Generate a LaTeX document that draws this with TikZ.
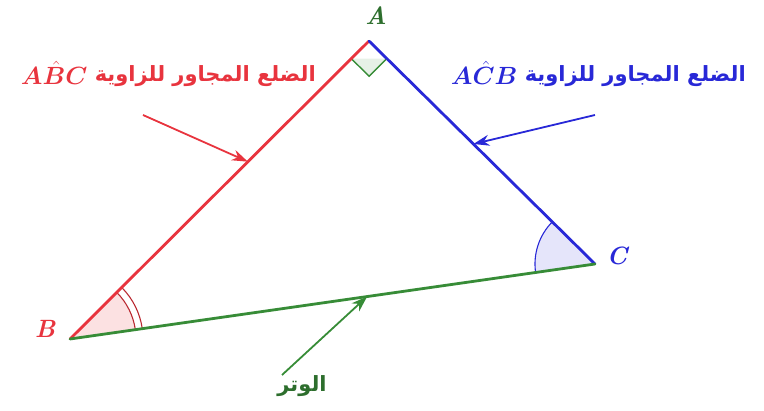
\documentclass[tikz,border=0pt]{standalone}
\usepackage{fontspec}
\usepackage{bm}
\TeXXeTstate=1
\newfontfamily\arabicfont[Script=Arabic]{DejaVu Sans}
\usetikzlibrary{angles,arrows.meta,calc}
\definecolor{redc}{RGB}{232,52,62}
\definecolor{bluec}{RGB}{40,40,215}
\definecolor{greenc}{RGB}{55,140,55}
\definecolor{greenl}{RGB}{45,110,45}
\tikzset{
  side/.style={line width=2.8pt, line cap=round},
  pointer/.style={line width=1.8pt, -{Stealth[length=16pt,width=11pt]}},
  vlabel/.style={font=\fontsize{25}{28}\selectfont\bfseries\itshape},
  arlabel/.style={font=\fontsize{21}{24}\selectfont, inner sep=0pt},
  mlabel/.style={font=\fontsize{28}{30}\selectfont, inner sep=0pt, anchor=east}
}
\begin{document}
\begin{tikzpicture}[x=1pt,y=-1pt]
\useasboundingbox (0,0) rectangle (764,411);
\coordinate (A) at (369,41);
\coordinate (B) at (70,339);
\coordinate (C) at (595,264);
% fills of angles
\pic [fill=redc!15, angle radius=66pt] {angle = C--B--A};
\pic [fill=bluec!12, angle radius=60pt] {angle = A--C--B};
% right angle square
\coordinate (R1) at ($(A)!25pt!(B)$);
\coordinate (R2) at ($(A)!25pt!(C)$);
\coordinate (R3) at ($(R1)+(R2)-(A)$);
\draw[greenc, line width=1.4pt, fill=greenc!12] (R1) -- (R3) -- (R2);
% angle arcs
\pic [draw=redc!80!black, line width=1.1pt, angle radius=66pt] {angle = C--B--A};
\pic [draw=redc!80!black, line width=1.1pt, angle radius=73pt] {angle = C--B--A};
\pic [draw=bluec, line width=1.1pt, angle radius=60pt] {angle = A--C--B};
% sides
\draw[side, redc] (B) -- (A);
\draw[side, bluec] (A) -- (C);
\draw[side, greenc] (B) -- (C);
% vertex labels
\node[vlabel, text=greenl] (lA) at (376,16) {A};
\node[vlabel, text=redc] (lB) at (45,329) {B};
\node[vlabel, text=bluec] (lC) at (617,256) {C};
% side labels
\node[arlabel, text=redc, anchor=east] (tR) at (316,76) {\arabicfont\bfseries\beginR الضلع المجاور للزاوية\endR};
\node[mlabel, text=redc] (mR) at ($(tR.west)+(-7,-3)$) {$\bm{A\hat{B}C}$};
\node[arlabel, text=bluec, anchor=east] (tB) at (746,76) {\arabicfont\bfseries\beginR الضلع المجاور للزاوية\endR};
\node[mlabel, text=bluec] (mB) at ($(tB.west)+(-7,-3)$) {$\bm{A\hat{C}B}$};
\node[arlabel, text=greenl] (tG) at (302,386) {\arabicfont\bfseries\beginR الوتر\endR};
% pointers
\coordinate (sR) at (143,115);
\coordinate (eR) at ($(B)!0.595!(A)$);
\coordinate (sB) at (595,115);
\coordinate (eB) at ($(A)!0.462!(C)$);
\coordinate (sG) at (282,375);
\coordinate (eG) at ($(B)!0.566!(C)$);
\draw[pointer, redc] (sR) -- (eR);
\draw[pointer, bluec] (sB) -- (eB);
\draw[pointer, greenc] (sG) -- (eG);
\end{tikzpicture}
\end{document}
